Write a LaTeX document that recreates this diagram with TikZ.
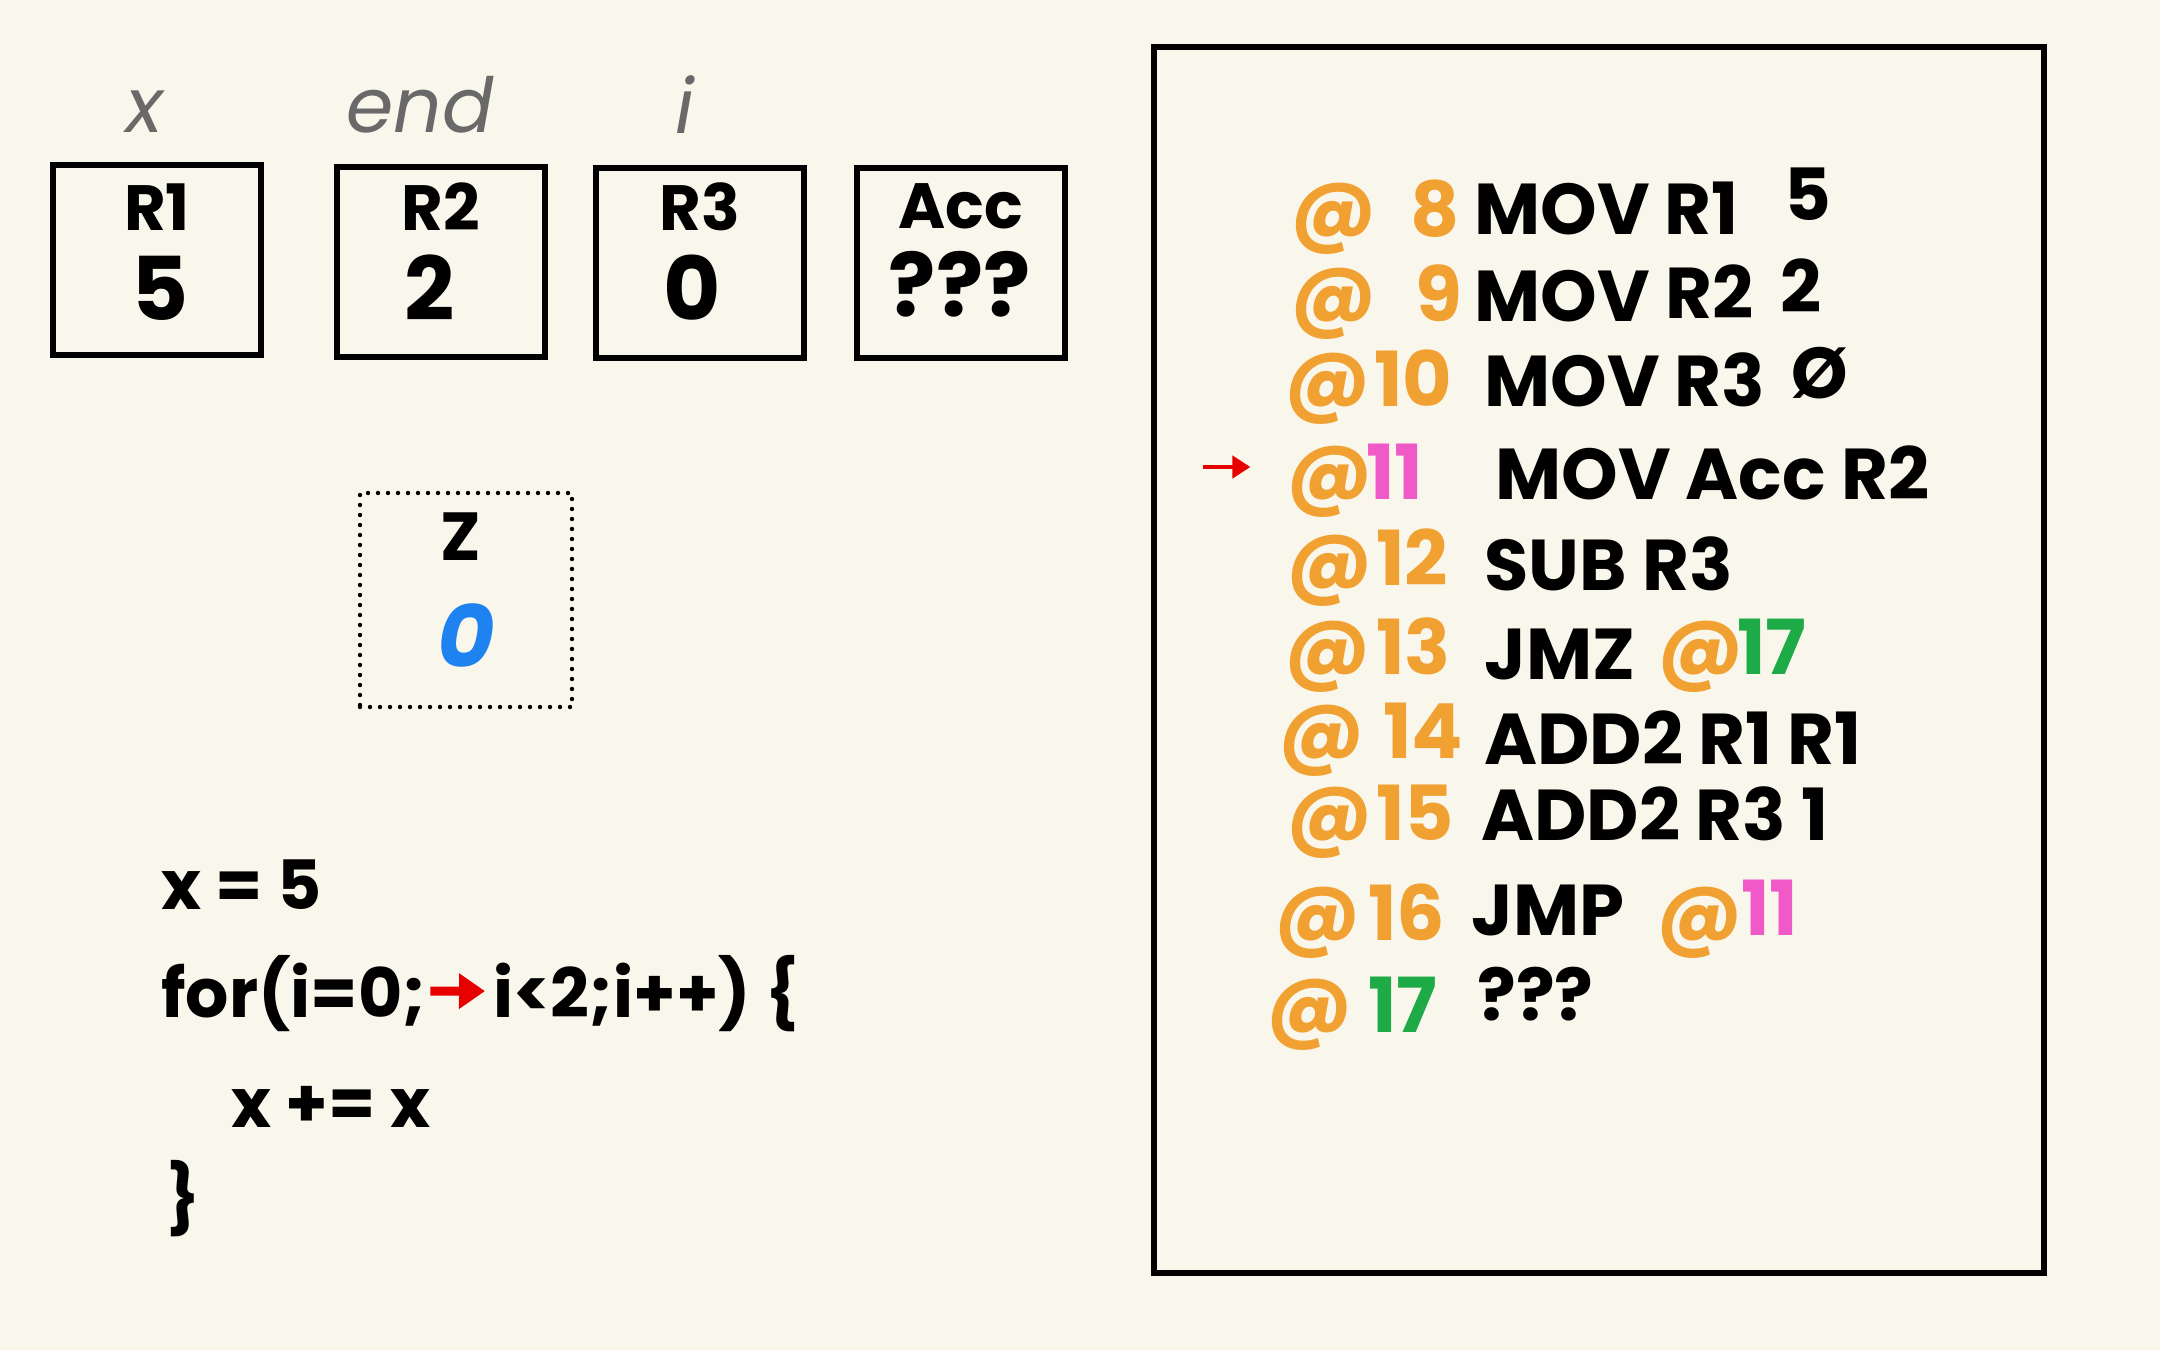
\documentclass[tikz,border=0pt]{standalone}
\usepackage{fontspec}
\setmainfont{Poppins}
\usetikzlibrary{arrows.meta}
\definecolor{paper}{RGB}{249,247,236}
\definecolor{addr}{RGB}{241,160,50}
\definecolor{hot}{RGB}{240,90,200}
\definecolor{jump}{RGB}{30,170,70}
\definecolor{zval}{RGB}{30,130,240}
\definecolor{lbl}{RGB}{105,105,105}
\definecolor{ptr}{RGB}{230,0,0}
\begin{document}
\begin{tikzpicture}[x=0.5pt,y=-0.5pt,
  regbox/.style={draw,line width=2.6pt,minimum width=104pt,minimum height=95pt,inner sep=0pt},
  varlbl/.style={font=\fontsize{38}{40}\selectfont\itshape,text=lbl,inner sep=0pt},
  regname/.style={font=\fontsize{32}{34}\selectfont\bfseries,inner sep=0pt},
  regval/.style={font=\fontsize{44}{46}\selectfont\bfseries,inner sep=0pt},
  atsign/.style={font=\fontsize{40}{42}\selectfont\bfseries,text=addr,anchor=base,inner sep=0pt},
  num/.style={font=\fontsize{38}{40}\selectfont\bfseries,text=addr,anchor=base west,inner sep=0pt},
  ins/.style={font=\fontsize{36}{38}\selectfont\bfseries,anchor=base west,inner sep=0pt},
  code/.style={font=\fontsize{34}{36}\selectfont\bfseries,anchor=base west,inner sep=0pt},
  ptrarrow/.style={draw=ptr,-{Triangle[length=9pt,width=11pt]},line width=2.2pt},
]
\fill[paper] (0,0) rectangle (2160,1350);
\useasboundingbox (0,0) rectangle (2160,1350);

% registers
\node[regbox] (r1) at (157,260) {};
\node[regbox] (r2) at (441,262) {};
\node[regbox] (r3) at (700,263) {};
\node[regbox] (acc) at (961,263) {};
\node[regname] (r1n) at (157,207) {R1};
\node[regname] (r2n) at (441,207) {R2};
\node[regname] (r3n) at (700,207) {R3};
\node[regname] (accn) at (961,206) {Acc};
\node[regval] (r1v) at (160,288) {5};
\node[regval] (r2v) at (430,288) {2};
\node[regval] (r3v) at (692,288) {0};
\node[regval] (accv) at (960,284) {???};
\node[varlbl] (lx) at (145,112) {x};
\node[varlbl] (lend) at (420,105) {end};
\node[varlbl] (li) at (685,105) {i};

% Z flag
\node[draw,line width=2.2pt,dash pattern=on 0pt off 5pt,line cap=round,
      minimum width=106pt,minimum height=107pt,inner sep=0pt] (zbox) at (466,600) {};
\node[font=\fontsize{34}{36}\selectfont\bfseries,inner sep=0pt] (zn) at (461,537) {Z};
\node[font=\fontsize{44}{46}\selectfont\bfseries\itshape,text=zval,inner sep=0pt] (zv) at (466,636) {0};

% source code
\node[code] (c1) at (161,909) {x = 5};
\node[code] (c2a) at (161,1017) {for(i=0;};
\node[code] (c2b) at (493,1017) {i<2;i++) \{};
\node[code] (c3) at (231,1127) {x += x};
\node[code] (c4) at (166,1222) {\}};
\draw[draw=ptr,-{Triangle[length=13pt,width=17pt]},line width=4.5pt]
  ([xshift=2pt,yshift=1pt]c2a.east) -- ([xshift=-4pt,yshift=1pt]c2b.west);

% program listing
\node[draw,line width=2.8pt,minimum width=445pt,minimum height=613pt,inner sep=0pt] (prog) at (1599,660) {};

\node[atsign] (a8) at (1334,236) {@};
\node[num] (n8) at (1410,236) {8};
\node[ins] (i8) at (1474,234) {MOV R1};
\node[ins] (v8) at (1784,220) {5};

\node[atsign] (a9) at (1334,321) {@};
\node[num] (n9) at (1415,321) {9};
\node[ins] (i9) at (1474,321) {MOV};
\node[ins] (o9) at (1665,318) {R2};
\node[ins] (v9) at (1780,312) {2};

\node[atsign] (a10) at (1328,406) {@};
\node[num] (n10) at (1374,406) {10};
\node[ins] (i10) at (1484,406) {MOV R3};
\node[ins] (v10) at (1791,398) {Ø};

\node[atsign] (a11) at (1330,499) {@};
\node[num,text=hot] (n11) at (1366,499) {11};
\node[ins] (i11) at (1495,499) {MOV Acc R2};
\coordinate (pc) at (1203,467);
\draw[ptrarrow] (pc) -- ([xshift=-18pt]pc -| a11.west);

\node[atsign] (a12) at (1330,588) {@};
\node[num] (n12) at (1376,585) {12};
\node[ins] (i12) at (1484,590) {SUB R3};

\node[atsign] (a13) at (1328,674) {@};
\node[num] (n13) at (1376,674) {13};
\node[ins] (i13) at (1484,679) {JMZ};
\node[atsign] (a13b) at (1701,674) {@};
\node[num,text=jump] (n13b) at (1737,674) {17};

\node[atsign] (a14) at (1322,758) {@};
\node[num] (n14) at (1383,758) {14};
\node[ins] (i14) at (1484,764) {ADD2 R1 R1};

\node[atsign] (a15) at (1330,840) {@};
\node[num] (n15) at (1376,840) {15};
\node[ins] (i15) at (1481,840) {ADD2 R3 1};

\node[atsign] (a16) at (1318,940) {@};
\node[num] (n16) at (1368,940) {16};
\node[ins] (i16) at (1471,935) {JMP};
\node[atsign] (a16b) at (1700,940) {@};
\node[num,text=hot] (n16b) at (1741,935) {11};

\node[atsign] (a17) at (1310,1032) {@};
\node[num,text=jump] (n17) at (1368,1032) {17};
\node[ins] (i17) at (1477,1020) {???};
\end{tikzpicture}
\end{document}
